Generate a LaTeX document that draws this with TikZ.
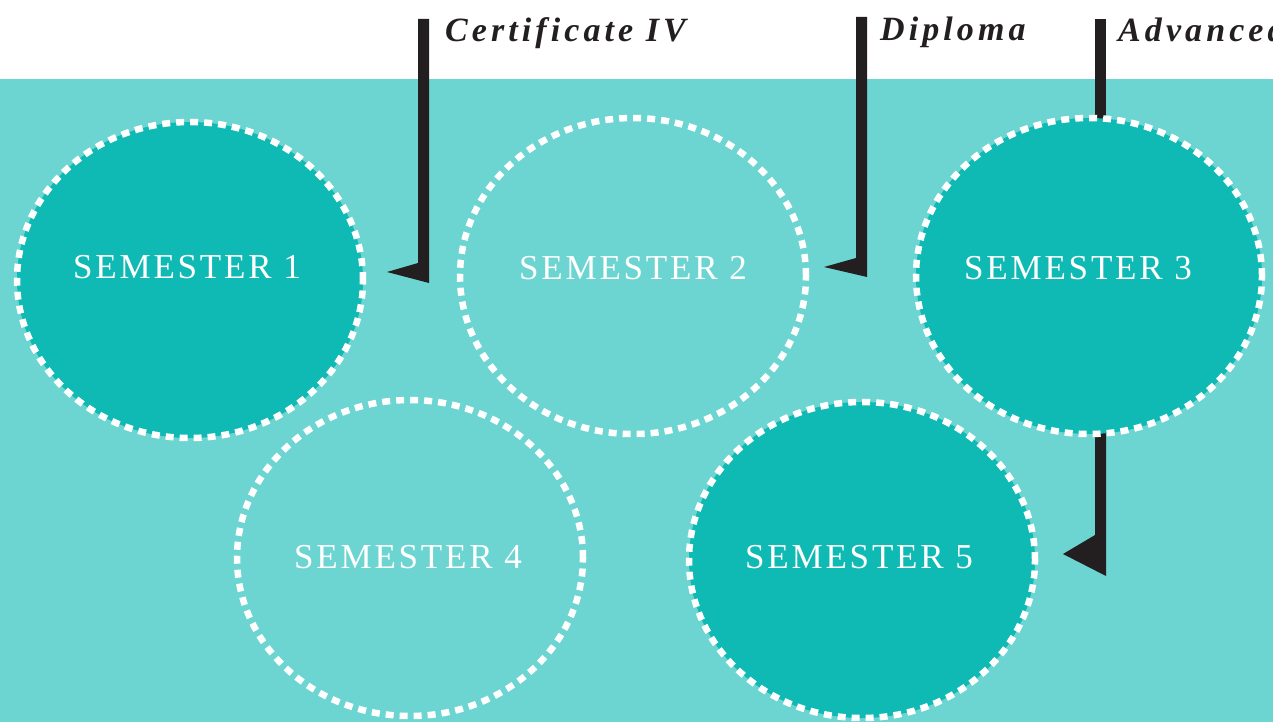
\documentclass[tikz,border=0pt]{standalone}
\usepackage{fontspec}
\setmainfont{Liberation Serif}
\newfontfamily\semfont[LetterSpace=8]{Liberation Serif}
\newfontfamily\labfont[LetterSpace=12]{Liberation Serif}
\usetikzlibrary{shapes.geometric}
\definecolor{bglight}{HTML}{6DD5D1}
\definecolor{tealdark}{HTML}{0FB9B4}
\definecolor{barblack}{HTML}{231F20}
\tikzset{
  sem/.style={ellipse, minimum width=346pt, minimum height=316pt, inner sep=0pt,
    draw=white, line width=6.5pt, dash pattern=on 8pt off 6pt},
  semdark/.style={sem, fill=tealdark},
  semlight/.style={sem, fill=bglight},
  semtext/.style={anchor=base, text=white, inner sep=0pt,
    font=\semfont\fontsize{35}{40}\selectfont},
  labtext/.style={anchor=base west, text=barblack, inner sep=0pt,
    font=\labfont\fontsize{34}{40}\selectfont\bfseries\itshape},
  flag/.style={fill=barblack, draw=none}
}
\begin{document}
\begin{tikzpicture}[x=1pt,y=-1pt]
\useasboundingbox (0,0) rectangle (1273,722);
\clip (0,0) rectangle (1273,722);
\fill[white] (0,0) rectangle (1273,79);
\fill[bglight] (0,79) rectangle (1273,722);
% labels
\node[labtext] (cert) at (445,42) {Certificate IV};
\node[labtext] (dipl) at (880,41) {Diploma};
\node[labtext] (adv) at (1118,42) {Advanced Diploma};
% flags
\fill[flag] (418,19) -- (429,19) -- (429,283) -- (387,272) -- (418,263) -- cycle;
\fill[flag] (856,17) -- (867,17) -- (867,277) -- (824,267) -- (856,258) -- cycle;
\fill[flag] (1095,19) rectangle (1106,125);
\fill[flag] (1095,430) -- (1106,430) -- (1106,576) -- (1063,554) -- (1095,535) -- cycle;
% semesters
\node[semdark]  (s1) at (190,280) {};
\node[semlight] (s2) at (633,276) {};
\node[semdark]  (s3) at (1089,276) {};
\node[semlight] (s4) at (410,558) {};
\node[semdark]  (s5) at (862,560) {};
\node[semtext] (t1) at (187,278) {SEMESTER 1};
\node[semtext] (t2) at (633,279) {SEMESTER 2};
\node[semtext] (t3) at (1078,279) {SEMESTER 3};
\node[semtext] (t4) at (408,568) {SEMESTER 4};
\node[semtext] (t5) at (859,568) {SEMESTER 5};
\end{tikzpicture}
\end{document}
